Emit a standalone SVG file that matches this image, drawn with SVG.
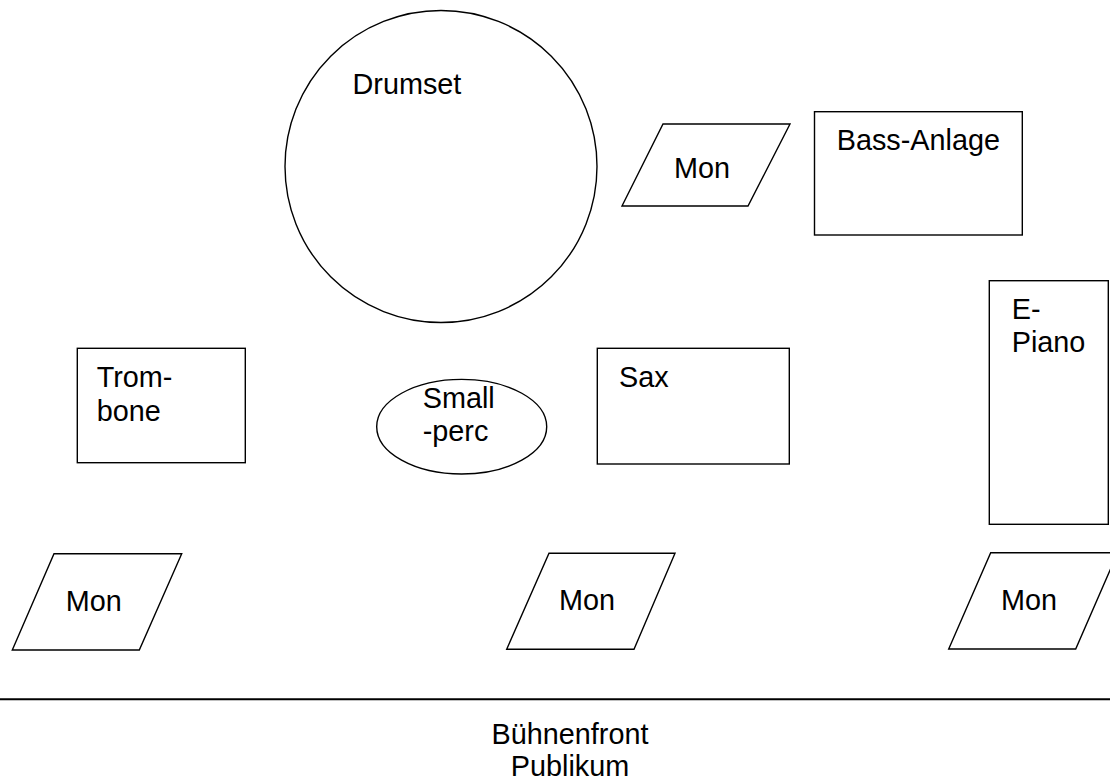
<svg xmlns="http://www.w3.org/2000/svg" width="1110" height="780" viewBox="0 0 1110 780">
<style>
.s{fill:#fff;stroke:#000;stroke-width:1.4}
.t{font-family:"Liberation Sans",Arial,sans-serif;font-size:28.8px;fill:#000}
.c{text-anchor:middle}
</style>
<rect width="1110" height="780" fill="#fff"/>
<g id="connectors">
<line x1="0" y1="699.3" x2="1110" y2="699.3" stroke="#000" stroke-width="2"/>
</g>
<g id="drumset">
<circle class="s" cx="441" cy="166.5" r="156"/>
<text class="t" x="352.5" y="94">Drumset</text>
</g>
<g id="mon-top">
<polygon class="s" points="663,124 790,124 748,206 622,206"/>
<text class="t" x="674" y="178">Mon</text>
</g>
<g id="bass-anlage">
<rect class="s" x="814.5" y="111.7" width="207.8" height="123.3"/>
<text class="t" x="836.7" y="150">Bass-Anlage</text>
</g>
<g id="trombone">
<rect class="s" x="77.3" y="348.3" width="168" height="114.4"/>
<text class="t" x="96.7" y="386.5">Trom-</text>
<text class="t" x="96.7" y="421">bone</text>
</g>
<g id="smallperc">
<ellipse class="s" cx="461.7" cy="426.7" rx="85" ry="47.3"/>
<text class="t" x="422.7" y="408.3">Small</text>
<text class="t" x="422.7" y="441">-perc</text>
</g>
<g id="sax">
<rect class="s" x="597.3" y="348.3" width="192" height="115.7"/>
<text class="t" x="619" y="386.7">Sax</text>
</g>
<g id="e-piano">
<rect class="s" x="989.3" y="280.7" width="119" height="243.6"/>
<text class="t" x="1011.7" y="319">E-</text>
<text class="t" x="1011.7" y="352">Piano</text>
</g>
<g id="mon-left">
<polygon class="s" points="54,553.7 181.7,553.7 139.3,650 12.3,650"/>
<text class="t" x="65.7" y="610.5">Mon</text>
</g>
<g id="mon-center">
<polygon class="s" points="549,553.3 675,553.3 634,649.3 506.7,649.3"/>
<text class="t" x="559" y="609.5">Mon</text>
</g>
<g id="mon-right">
<polygon class="s" points="990.7,552.7 1117.7,552.7 1075.7,649 948.7,649"/>
<text class="t" x="1001" y="609.5">Mon</text>
</g>
<g id="front">
<text class="t c" x="570" y="744.3">Bühnenfront</text>
<text class="t c" x="570" y="776">Publikum</text>
</g>
</svg>
